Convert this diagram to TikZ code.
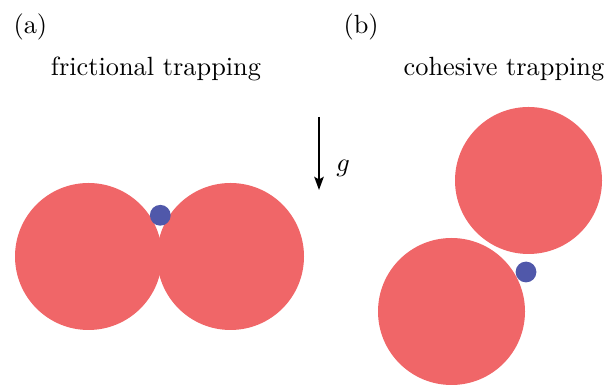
\documentclass[tikz,border=0pt]{standalone}
\usetikzlibrary{arrows.meta}
\definecolor{grainred}{RGB}{240,102,104}
\definecolor{grainblue}{RGB}{80,88,170}
\begin{document}
\begin{tikzpicture}[x=0.38pt,y=-0.38pt,
  grain/.style={circle,fill=grainred,inner sep=0pt,minimum size=55.86pt},
  fine/.style={circle,fill=grainblue,inner sep=0pt,minimum size=7.9pt},
  gravity/.style={line width=0.75pt,-{Stealth[length=5pt,width=3.6pt,inset=1pt]}},
  lab/.style={anchor=base,inner sep=0pt}]
\useasboundingbox (0,0) rectangle (607,386);
% (a)
\node[lab,anchor=base west] (la) at (13,34) {(a)};
\node[lab] (ta) at (156,76) {frictional trapping};
\node[grain] (a1) at (88.5,256.5) {};
\node[grain] (a2) at (230.5,256.5) {};
\node[fine] (af) at (160.3,215.3) {};
% gravity
\coordinate (gtop) at (319,117);
\coordinate (gbot) at (319,190);
\draw[gravity] (gtop) -- (gbot);
\node[inner sep=0pt] (g) at (343,168) {$g$};
% (b)
\node[lab,anchor=base west] (lb) at (343,34) {(b)};
\node[lab] (tb) at (504,76) {cohesive trapping};
\node[grain] (b1) at (528.5,180.5) {};
\node[grain] (b2) at (451.5,311.5) {};
\node[fine] (bf) at (526,272) {};
\end{tikzpicture}
\end{document}
